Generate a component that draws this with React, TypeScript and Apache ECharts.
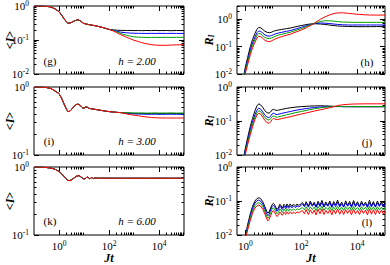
import React, { useEffect, useRef } from 'react';
import * as echarts from 'echarts';

const SERIF = '"Liberation Serif", "Times New Roman", serif';

// ---------- axis ranges & ticks ----------
const xRangeLeft = [0.1, 1e5];
const xRangeRight = [0.5, 1e5];
const yRangeWide = [0.01, 1];
const yRangeNarrow = [0.1, 1];
const yRangeH = [0.01, 3];
const xMajors = [1, 100, 10000];
const yMajorsWide = [0.01, 0.1, 1];
const yMajorsNarrow = [0.1, 1];
const minorMult = [2, 3, 4, 5, 6, 7, 8, 9];

// ---------- panel (g): <I>, h = 2.00 ----------
const tG = [0.1, 0.2, 0.3, 0.4, 0.5, 0.7, 1, 1.3, 1.6, 2, 2.3, 2.7, 3.2, 4, 5, 5.8, 7, 8, 9.5, 12, 15, 20, 30, 50, 70, 100,
  150, 200, 300, 500, 700, 1000, 1500, 2000, 3000, 5000, 7000, 10000, 20000, 30000, 50000, 100000];
const gEarly = [1.0, 0.995, 0.98, 0.955, 0.92, 0.82, 0.68, 0.53, 0.42, 0.34, 0.31, 0.315, 0.33, 0.36, 0.385, 0.39, 0.37, 0.34, 0.31, 0.295, 0.285, 0.275, 0.26, 0.238, 0.222, 0.205];
const gBlackTail = [0.198, 0.195, 0.192, 0.19, 0.191, 0.189, 0.19, 0.188, 0.19, 0.189, 0.191, 0.189, 0.19, 0.188, 0.19, 0.189];
const gBlueTail = [0.192, 0.182, 0.17, 0.163, 0.16, 0.158, 0.157, 0.157, 0.156, 0.157, 0.156, 0.157, 0.156, 0.157, 0.156, 0.156];
const gGreenTail = [0.188, 0.175, 0.155, 0.138, 0.13, 0.124, 0.121, 0.12, 0.119, 0.119, 0.12, 0.119, 0.12, 0.119, 0.12, 0.12];
const gRedTail = [0.183, 0.165, 0.142, 0.121, 0.109, 0.098, 0.09, 0.084, 0.078, 0.073, 0.071, 0.07, 0.07, 0.071, 0.072, 0.073];

// ---------- panel (i): <I>, h = 3.00 ----------
const tI = [0.1, 0.2, 0.3, 0.4, 0.5, 0.7, 1, 1.3, 1.6, 2, 2.3, 2.7, 3.2, 4, 5, 5.8, 7, 8, 9, 10, 11, 12, 13.5, 15, 17, 20, 25, 30, 40, 50, 70, 100, 150, 200, 300,
  500, 700, 1000, 1500, 2000, 3000, 5000, 7000, 10000, 20000, 30000, 50000, 100000];
const iEarly = [1.0, 0.995, 0.985, 0.965, 0.94, 0.87, 0.8, 0.67, 0.56, 0.47, 0.435, 0.44, 0.47, 0.52, 0.553, 0.56, 0.54, 0.51, 0.49, 0.488, 0.5, 0.51, 0.505, 0.49, 0.483, 0.478, 0.472, 0.467, 0.458, 0.452, 0.443, 0.435, 0.428, 0.424, 0.42];
const iBlackTail = [0.415, 0.413, 0.41, 0.409, 0.41, 0.408, 0.409, 0.41, 0.408, 0.409, 0.41, 0.408, 0.409];
const iBlueTail = [0.412, 0.407, 0.402, 0.4, 0.399, 0.398, 0.397, 0.398, 0.397, 0.397, 0.398, 0.397, 0.397];
const iGreenTail = [0.417, 0.416, 0.415, 0.414, 0.414, 0.413, 0.413, 0.414, 0.413, 0.413, 0.414, 0.413, 0.413];
const iRedTail = [0.402, 0.393, 0.385, 0.377, 0.371, 0.363, 0.356, 0.353, 0.351, 0.35, 0.35, 0.35, 0.35];

// ---------- panel (k): <I>, h = 6.00 ----------
const tK = [0.1, 0.2, 0.3, 0.5, 0.7, 1, 1.3, 1.6, 2, 2.3, 2.7, 3.2, 4, 5, 5.8, 6.6, 7.5, 8.5, 9.5, 10.5, 11.5, 12.5, 13.5, 14.5, 15.5,
  16.5, 17.5, 18.5, 19.5, 20.5, 21.5, 22.5, 24, 25.5, 27, 28.5, 30, 31.5, 33, 35, 37, 40, 45, 50, 70, 100, 200, 500, 1000, 3000, 10000, 30000, 100000];
const kVals = [1.0, 0.995, 0.985, 0.96, 0.925, 0.86, 0.79, 0.72, 0.66, 0.635, 0.632, 0.65, 0.69, 0.73, 0.745, 0.74, 0.715, 0.69, 0.672, 0.668,
  0.68, 0.7, 0.71, 0.705, 0.69, 0.675, 0.672, 0.68, 0.695, 0.702, 0.698, 0.687, 0.676, 0.68, 0.693, 0.695, 0.686, 0.679, 0.683, 0.692,
  0.688, 0.681, 0.686, 0.684, 0.685, 0.684, 0.684, 0.683, 0.684, 0.683, 0.684, 0.683, 0.684];

// ---------- panel (h): R_I, h = 2.00 ----------
const tH = [0.88, 1, 1.2, 1.5, 1.8, 2.2, 2.6, 3, 3.5, 4.2, 5, 6, 7.3, 8.5, 10, 12, 15, 20, 30, 40, 60, 100, 150, 200, 300, 500, 700, 1000, 1500, 2000, 3000, 5000, 7000, 10000, 20000, 30000, 50000, 100000];
const hBlack = [0.009, 0.018, 0.04, 0.1, 0.18, 0.3, 0.43, 0.5, 0.48, 0.42, 0.36, 0.33, 0.32, 0.33, 0.36, 0.38, 0.4, 0.42, 0.45, 0.47, 0.52, 0.58, 0.63, 0.66, 0.68, 0.66, 0.64, 0.61, 0.58, 0.56, 0.55, 0.54, 0.535, 0.53, 0.53, 0.53, 0.535, 0.53];
const hBlue = [0.008, 0.015, 0.032, 0.075, 0.135, 0.22, 0.32, 0.37, 0.355, 0.31, 0.265, 0.245, 0.24, 0.25, 0.27, 0.29, 0.31, 0.33, 0.36, 0.38, 0.43, 0.5, 0.57, 0.62, 0.68, 0.72, 0.71, 0.69, 0.66, 0.64, 0.62, 0.61, 0.61, 0.61, 0.61, 0.61, 0.61, 0.61];
const hGreen = [0.0075, 0.013, 0.027, 0.062, 0.11, 0.18, 0.26, 0.3, 0.29, 0.25, 0.215, 0.2, 0.195, 0.205, 0.22, 0.24, 0.26, 0.28, 0.31, 0.33, 0.38, 0.45, 0.53, 0.6, 0.7, 0.82, 0.87, 0.87, 0.84, 0.81, 0.78, 0.77, 0.76, 0.76, 0.76, 0.76, 0.76, 0.76];
const hRed = [0.0065, 0.011, 0.022, 0.05, 0.09, 0.145, 0.205, 0.24, 0.23, 0.2, 0.17, 0.155, 0.15, 0.16, 0.175, 0.19, 0.21, 0.23, 0.26, 0.28, 0.33, 0.4, 0.48, 0.56, 0.72, 1.0, 1.2, 1.4, 1.6, 1.68, 1.7, 1.62, 1.56, 1.5, 1.43, 1.41, 1.4, 1.4];

// ---------- panel (j): R_I, h = 3.00 ----------
const tJ = [0.88, 1, 1.2, 1.5, 1.8, 2.2, 2.6, 3, 3.5, 4.2, 5, 6, 7, 8, 9, 10, 11, 12.5, 14, 16, 20, 30, 40, 60, 100, 150, 200, 300, 500, 700, 1000, 1500, 2000, 3000, 5000, 7000, 10000, 20000, 30000, 50000, 100000];
const jBlack = [0.009, 0.016, 0.032, 0.07, 0.12, 0.2, 0.28, 0.32, 0.3, 0.25, 0.2, 0.175, 0.17, 0.185, 0.21, 0.22, 0.215, 0.205, 0.205, 0.21, 0.22, 0.235, 0.245, 0.255, 0.265, 0.27, 0.275, 0.278, 0.28, 0.278, 0.275, 0.27, 0.267, 0.265, 0.263, 0.262, 0.262, 0.262, 0.262, 0.262, 0.262];
const jBlue = [0.0085, 0.014, 0.027, 0.056, 0.095, 0.155, 0.21, 0.24, 0.225, 0.185, 0.148, 0.13, 0.125, 0.14, 0.16, 0.17, 0.165, 0.155, 0.155, 0.16, 0.168, 0.18, 0.19, 0.205, 0.22, 0.232, 0.24, 0.25, 0.258, 0.262, 0.265, 0.266, 0.266, 0.265, 0.265, 0.265, 0.265, 0.265, 0.265, 0.265, 0.265];
const jGreen = [0.0075, 0.012, 0.023, 0.047, 0.08, 0.13, 0.175, 0.2, 0.19, 0.155, 0.125, 0.11, 0.107, 0.117, 0.133, 0.14, 0.137, 0.13, 0.13, 0.134, 0.14, 0.152, 0.16, 0.175, 0.19, 0.205, 0.215, 0.23, 0.245, 0.255, 0.262, 0.266, 0.268, 0.268, 0.267, 0.267, 0.267, 0.267, 0.267, 0.267, 0.267];
const jRed = [0.0065, 0.0105, 0.02, 0.04, 0.068, 0.11, 0.15, 0.17, 0.16, 0.13, 0.103, 0.09, 0.085, 0.095, 0.11, 0.12, 0.117, 0.11, 0.11, 0.113, 0.118, 0.127, 0.133, 0.145, 0.16, 0.172, 0.182, 0.197, 0.215, 0.228, 0.245, 0.265, 0.285, 0.3, 0.31, 0.315, 0.317, 0.32, 0.32, 0.32, 0.32];

// ---------- panel (l): R_I, h = 6.00 ----------
const tLEarly = [1, 1.2, 1.5, 1.8, 2.2, 2.6, 3, 3.5, 4.2, 5, 5.8, 6.3, 7, 8, 9, 10, 11, 12, 13.5, 15, 17, 18.5, 20.5, 22, 24, 26, 27.5, 29, 31, 33, 35, 37, 40, 43, 47, 52, 57, 63, 70, 80, 90, 100];
const tLLate = [110, 130, 150, 180, 210, 250, 290, 340, 400, 470, 550, 650, 760, 900, 1050, 1250, 1450, 1700, 2000, 2400, 2800, 3300, 3900, 4600, 5400, 6300, 7500, 8800, 10400, 12200, 14400, 17000, 20000, 23500, 27800, 32700, 38500, 45500, 53500, 63000, 74500, 88000, 100000];
const lBlackEarly = [0.009, 0.02, 0.042, 0.07, 0.1, 0.118, 0.125, 0.118, 0.095, 0.068, 0.05, 0.044, 0.047, 0.062, 0.078, 0.085, 0.08, 0.068, 0.056, 0.062, 0.08, 0.076, 0.063, 0.066, 0.08, 0.074, 0.066, 0.07, 0.082, 0.076, 0.068, 0.072, 0.082, 0.074, 0.07, 0.08, 0.076, 0.071, 0.081, 0.075, 0.078, 0.084];
const lBlueEarly = [0.0085, 0.018, 0.037, 0.061, 0.087, 0.102, 0.107, 0.1, 0.081, 0.058, 0.042, 0.037, 0.04, 0.054, 0.068, 0.075, 0.07, 0.06, 0.05, 0.055, 0.07, 0.067, 0.056, 0.059, 0.07, 0.066, 0.059, 0.062, 0.072, 0.068, 0.061, 0.064, 0.072, 0.067, 0.063, 0.071, 0.068, 0.064, 0.072, 0.068, 0.07, 0.075];
const lGreenEarly = [0.008, 0.016, 0.032, 0.052, 0.073, 0.085, 0.089, 0.084, 0.068, 0.048, 0.035, 0.031, 0.034, 0.045, 0.057, 0.063, 0.058, 0.05, 0.042, 0.046, 0.058, 0.055, 0.047, 0.049, 0.058, 0.054, 0.049, 0.051, 0.059, 0.056, 0.05, 0.053, 0.059, 0.055, 0.052, 0.058, 0.056, 0.053, 0.059, 0.056, 0.058, 0.061];
const lRedEarly = [0.0075, 0.014, 0.027, 0.044, 0.062, 0.072, 0.076, 0.071, 0.057, 0.041, 0.03, 0.026, 0.028, 0.037, 0.047, 0.052, 0.048, 0.041, 0.035, 0.038, 0.047, 0.045, 0.038, 0.04, 0.047, 0.044, 0.04, 0.042, 0.048, 0.045, 0.041, 0.043, 0.048, 0.045, 0.042, 0.047, 0.045, 0.043, 0.048, 0.045, 0.047, 0.05];
const lBlackLate = [0.09, 0.072, 0.095, 0.07, 0.1, 0.074, 0.092, 0.068, 0.098, 0.075, 0.104, 0.07, 0.094, 0.073, 0.1, 0.069, 0.096, 0.076, 0.106, 0.071, 0.093, 0.068, 0.101, 0.074, 0.097, 0.07, 0.103, 0.073, 0.095, 0.069, 0.099, 0.075, 0.092, 0.07, 0.105, 0.072, 0.096, 0.068, 0.1, 0.074, 0.094, 0.071, 0.09];
const lBlueLate = [0.08, 0.068, 0.085, 0.066, 0.088, 0.07, 0.083, 0.065, 0.087, 0.069, 0.09, 0.066, 0.084, 0.07, 0.089, 0.065, 0.086, 0.068, 0.091, 0.067, 0.083, 0.066, 0.088, 0.07, 0.085, 0.065, 0.09, 0.068, 0.084, 0.066, 0.087, 0.07, 0.083, 0.065, 0.089, 0.067, 0.086, 0.066, 0.088, 0.069, 0.084, 0.067, 0.08];
const lGreenLate = [0.064, 0.055, 0.068, 0.053, 0.067, 0.056, 0.066, 0.052, 0.069, 0.055, 0.07, 0.053, 0.065, 0.056, 0.068, 0.052, 0.067, 0.055, 0.07, 0.054, 0.066, 0.053, 0.068, 0.056, 0.067, 0.052, 0.069, 0.055, 0.065, 0.053, 0.068, 0.056, 0.066, 0.052, 0.07, 0.054, 0.067, 0.053, 0.068, 0.055, 0.066, 0.054, 0.062];
const lRedLate = [0.052, 0.042, 0.056, 0.04, 0.055, 0.043, 0.054, 0.039, 0.057, 0.042, 0.058, 0.04, 0.053, 0.043, 0.056, 0.039, 0.055, 0.042, 0.058, 0.041, 0.054, 0.04, 0.056, 0.043, 0.055, 0.039, 0.057, 0.042, 0.053, 0.04, 0.056, 0.043, 0.054, 0.039, 0.058, 0.041, 0.055, 0.04, 0.056, 0.042, 0.054, 0.041, 0.05];

const COLORS = ['#000000', '#0000ff', '#00a000', '#ff0000'];

const lg = (v: number) => Math.log10(v);
const minorsOf = (majors: number[], range: number[]) => {
  const out: number[] = [];
  majors.forEach((m) => minorMult.forEach((k) => { const v = m * k; if (v >= range[0] && v <= range[1] * 1.0001) out.push(v); }));
  return out;
};

const numRich = {
  a: { fontSize: 11, fontFamily: SERIF, color: '#000' },
  b: { fontSize: 7.5, fontFamily: SERIF, color: '#000', padding: [0, 0, 5, 0] },
};
const powFmt = (v: number) => `{a|10}{b|${Math.round(v)}}`;

export default function App() {
  const ref = useRef<HTMLDivElement>(null);
  useEffect(() => {
    if (!ref.current) return;
    const chart = echarts.init(ref.current, undefined, { renderer: 'svg' });

    const LW = 150, RW = 148, LX = 34, RX = 237, H = 68;
    const tops = [6, 87, 167];
    const panels = [
      { g: { left: LX, top: tops[0], width: LW, height: H }, xr: xRangeLeft, yr: yRangeWide, yM: yMajorsWide, t: tG,
        s: [[...gEarly, ...gBlackTail], [...gEarly, ...gBlueTail], [...gEarly, ...gGreenTail], [...gEarly, ...gRedTail]], xl: false, yn: 'I' },
      { g: { left: RX, top: tops[0], width: RW, height: H }, xr: xRangeRight, yr: yRangeH, yM: yMajorsWide, t: tH,
        s: [hBlack, hBlue, hGreen, hRed], xl: false, yn: 'R' },
      { g: { left: LX, top: tops[1], width: LW, height: H }, xr: xRangeLeft, yr: yRangeNarrow, yM: yMajorsNarrow, t: tI,
        s: [[...iEarly, ...iBlackTail], [...iEarly, ...iBlueTail], [...iEarly, ...iGreenTail], [...iEarly, ...iRedTail]], xl: false, yn: 'I' },
      { g: { left: RX, top: tops[1], width: RW, height: H }, xr: xRangeRight, yr: yRangeWide, yM: yMajorsWide, t: tJ,
        s: [jBlack, jBlue, jGreen, jRed], xl: false, yn: 'R' },
      { g: { left: LX, top: tops[2], width: LW, height: H }, xr: xRangeLeft, yr: yRangeNarrow, yM: yMajorsNarrow, t: tK,
        s: [kVals, kVals, kVals, kVals], xl: true, yn: 'I' },
      { g: { left: RX, top: tops[2], width: RW, height: H }, xr: xRangeRight, yr: yRangeWide, yM: yMajorsWide, t: [...tLEarly, ...tLLate],
        s: [[...lBlackEarly, ...lBlackLate], [...lBlueEarly, ...lBlueLate], [...lGreenEarly, ...lGreenLate], [...lRedEarly, ...lRedLate]], xl: true, yn: 'R' },
    ];

    const grids: any[] = [];
    const xAxes: any[] = [];
    const yAxes: any[] = [];
    const series: any[] = [];

    const tickAxis = (gi: number, pos: string, range: number[], vals: number[], len: number, labels: boolean, extra: any = {}) => ({
      type: 'value', gridIndex: gi, position: pos, min: lg(range[0]), max: lg(range[1]),
      axisLine: { show: false, onZero: false }, splitLine: { show: false }, minorTick: { show: false }, splitArea: { show: false },
      axisTick: { show: true, inside: true, length: len, customValues: vals.map(lg), lineStyle: { color: '#000', width: 1 } },
      axisLabel: labels
        ? { show: true, customValues: vals.map(lg), formatter: powFmt, rich: numRich, margin: pos === 'bottom' ? 4 : 5, color: '#000', hideOverlap: false }
        : { show: false },
      nameMoveOverlap: false,
      silent: true,
      ...extra,
    });

    panels.forEach((p, gi) => {
      grids.push({ ...p.g, show: true, borderColor: '#000', borderWidth: 1, backgroundColor: 'transparent', containLabel: false, outerBoundsMode: 'none' });
      const xi = xAxes.length;
      xAxes.push({ type: 'log', logBase: 10, gridIndex: gi, min: p.xr[0], max: p.xr[1], show: false, axisLine: { onZero: false } });
      const yi = yAxes.length;
      yAxes.push({ type: 'log', logBase: 10, gridIndex: gi, min: p.yr[0], max: p.yr[1], show: false, axisLine: { onZero: false } });

      const xMin = minorsOf(xMajors, p.xr);
      const yMin = minorsOf(p.yM, p.yr);
      const xName = p.xl
        ? { name: '{j|Jt}', nameLocation: 'middle', nameGap: 17,
            nameTextStyle: { rich: { j: { fontSize: 12, fontWeight: 'bold', fontStyle: 'italic', fontFamily: SERIF, color: '#000' } } } }
        : {};
      xAxes.push(tickAxis(gi, 'bottom', p.xr, xMajors, 5, p.xl, xName));
      xAxes.push(tickAxis(gi, 'bottom', p.xr, xMin, 2.5, false));
      xAxes.push(tickAxis(gi, 'top', p.xr, xMajors, 5, false));
      xAxes.push(tickAxis(gi, 'top', p.xr, xMin, 2.5, false));

      const yName = p.yn === 'I'
        ? { name: '{p|<}{i|I}{p|>}', nameLocation: 'middle', nameGap: 18, nameRotate: 90,
            nameTextStyle: { rich: {
              p: { fontSize: 12, fontWeight: 'bold', fontFamily: SERIF, color: '#000' },
              i: { fontSize: 12, fontWeight: 'bold', fontStyle: 'italic', fontFamily: SERIF, color: '#000' } } } }
        : { name: '{r|R}{s|I}', nameLocation: 'middle', nameGap: 22, nameRotate: 90,
            nameTextStyle: { rich: {
              r: { fontSize: 12, fontWeight: 'bold', fontStyle: 'italic', fontFamily: SERIF, color: '#000' },
              s: { fontSize: 8, fontWeight: 'bold', fontStyle: 'italic', fontFamily: SERIF, color: '#000', padding: [5, 0, 0, 0] } } } };
      yAxes.push(tickAxis(gi, 'left', p.yr, p.yM, 5, true, yName));
      yAxes.push(tickAxis(gi, 'left', p.yr, yMin, 2.5, false));
      yAxes.push(tickAxis(gi, 'right', p.yr, p.yM, 5, false));
      yAxes.push(tickAxis(gi, 'right', p.yr, yMin, 2.5, false));

      p.s.forEach((vals, si) => {
        series.push({
          type: 'line', xAxisIndex: xi, yAxisIndex: yi, showSymbol: false, symbol: 'none', clip: true,
          data: p.t.map((t, k) => [t, vals[k]]),
          lineStyle: { width: 1, color: COLORS[si] }, itemStyle: { color: COLORS[si] },
          emphasis: { disabled: true }, silent: true, z: 2 + si,
        });
      });
    });

    const txt = (x: number, y: number, text: string, italic = false) => ({
      type: 'text', x, y, silent: true,
      style: { text, font: `${italic ? 'italic ' : ''}11px ${SERIF}`, fill: '#000', align: 'center', verticalAlign: 'middle', textAlign: 'center', textVerticalAlign: 'middle' },
    });

    chart.setOption({
      animation: false,
      backgroundColor: '#ffffff',
      textStyle: { fontFamily: SERIF },
      grid: grids,
      xAxis: xAxes,
      yAxis: yAxes,
      series,
      graphic: [
        txt(50, 61, '(g)'), txt(137, 61, 'h = 2.00', true), txt(367, 62, '(h)'),
        txt(49, 141, '(i)'), txt(137, 141, 'h = 3.00', true), txt(367, 142, '(j)'),
        txt(50, 221, '(k)'), txt(137, 221, 'h = 6.00', true), txt(367, 222, '(l)'),
      ],
    });
    return () => chart.dispose();
  }, []);
  return <div ref={ref} style={{ position: 'fixed', left: 0, top: 0, width: 390, height: 265, background: '#fff' }} />;
}
